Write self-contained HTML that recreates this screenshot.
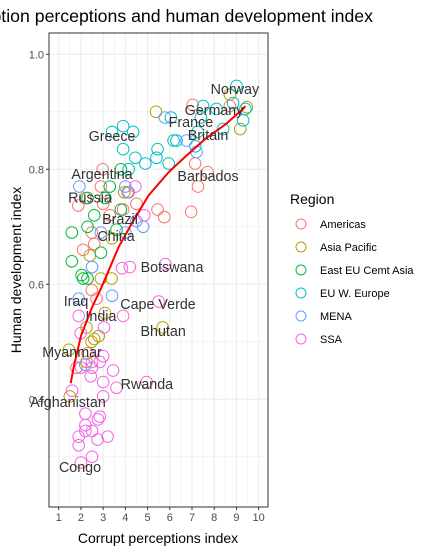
<!DOCTYPE html>
<html><head><meta charset="utf-8"><style>
body{margin:0;background:#fff;width:440px;height:552px;overflow:hidden}
svg{font-family:"Liberation Sans",sans-serif}
</style></head><body>
<svg id="c" width="440" height="552"></svg>
<script>
const regions=["Americas","Asia Pacific","East EU Cemt Asia","EU W. Europe","MENA","SSA"];
const colors=["#F8766D","#B79F00","#00BA38","#00BFC4","#619CFF","#F564E3"];
const americasPts=[[7.03,0.912],[8.7,0.91],[7.14,0.81],[7.7,0.795],[7.27,0.77],[6.96,0.726],[5.75,0.717],[5.45,0.73],[2.98,0.80],[2.9,0.77],[1.88,0.737],[2.2,0.75],[2.49,0.69],[3.3,0.72],[3.9,0.73],[4.5,0.74],[3.0,0.74],[2.6,0.67],[2.1,0.66],[4.1,0.76],[2.49,0.59],[2.7,0.575],[1.8,0.455],[2.3,0.48]];
const asiaPts=[[9.47,0.908],[9.17,0.87],[8.7,0.93],[5.38,0.90],[3.95,0.76],[3.4,0.68],[2.4,0.65],[3.38,0.61],[2.9,0.61],[3.08,0.55],[2.25,0.525],[2.8,0.51],[2.48,0.50],[1.46,0.486],[2.25,0.465],[1.5,0.405],[5.68,0.525],[2.6,0.505]];
const eastEuPts=[[1.59,0.69],[1.59,0.64],[2.3,0.75],[3.3,0.77],[3.8,0.73],[2.6,0.72],[2.3,0.70],[2.1,0.61],[2.9,0.655],[3.8,0.80],[3.1,0.75],[3.6,0.695],[2.03,0.616],[2.3,0.61]];
const euwPts=[[9.0,0.945],[7.5,0.91],[8.1,0.905],[8.85,0.915],[9.4,0.905],[9.3,0.885],[7.4,0.89],[8.4,0.87],[6.05,0.89],[7.25,0.865],[6.3,0.85],[7.15,0.84],[3.9,0.875],[4.35,0.865],[3.4,0.865],[3.9,0.835],[5.45,0.835],[5.95,0.81],[5.4,0.82],[4.45,0.82],[4.9,0.81],[4.15,0.80],[6.17,0.85]];
const menaPts=[[5.78,0.89],[6.75,0.85],[7.2,0.83],[1.93,0.77],[4.0,0.77],[4.15,0.76],[4.5,0.71],[4.8,0.70],[2.9,0.69],[4.0,0.69],[2.5,0.63],[1.9,0.575],[3.4,0.58],[2.2,0.46]];
const ssaPts=[[4.45,0.77],[4.85,0.72],[5.8,0.635],[4.2,0.63],[3.85,0.628],[5.5,0.57],[3.9,0.545],[1.9,0.545],[3.04,0.525],[1.99,0.515],[3.0,0.475],[2.5,0.465],[2.85,0.465],[3.45,0.45],[2.5,0.455],[2.0,0.455],[2.44,0.44],[3.0,0.43],[3.6,0.42],[4.96,0.43],[3.0,0.405],[1.6,0.415],[2.2,0.375],[2.77,0.365],[2.2,0.355],[2.2,0.345],[2.5,0.345],[1.9,0.335],[2.75,0.33],[3.2,0.335],[1.9,0.32],[2.5,0.30],[2.0,0.29],[2.85,0.37]];
const seriesPts=[americasPts,asiaPts,eastEuPts,euwPts,menaPts,ssaPts];
const trendX=[1.54,1.68,2.0,2.5,2.87,3.13,3.7,4.35,5.05,5.95,6.7,7.6,8.5,9.3,9.4];
const trendY=[0.428,0.457,0.51,0.56,0.59,0.613,0.665,0.71,0.755,0.795,0.822,0.853,0.878,0.905,0.91];
const labelNames=["Norway","Germany","France","Britain","Greece","Argentina","Barbados","Russia","Brazil","China","Botswana","Iraq","Cape Verde","India","Bhutan","Myanmar","Rwanda","Afghanistan","Congo"];
const labelX=[8.93,7.99,6.95,7.72,3.4,2.95,7.72,2.41,3.76,3.58,6.1,1.78,5.47,2.9,5.7,1.6,4.97,1.42,1.96];
const labelY=[0.940,0.903,0.882,0.860,0.858,0.792,0.788,0.751,0.714,0.684,0.630,0.571,0.566,0.545,0.519,0.482,0.427,0.395,0.282];
const xTicks=[1,2,3,4,5,6,7,8,9,10];
const yTicks=[0.4,0.6,0.8,1.0];
const yTickLabels=["0.4","0.6","0.8","1.0"];

const L=49,R=268,T=33,B=507;
const x=v=>58.7+(v-1)*22.22;
const y=v=>54.3+(1-v)*575;
const svg=document.getElementById('c');
const NS="http://www.w3.org/2000/svg";
function mk(tag,attrs,parent){const e=document.createElementNS(NS,tag);for(const k in attrs)e.setAttribute(k,attrs[k]);(parent||svg).appendChild(e);return e;}

mk('rect',{x:L,y:T,width:R-L,height:B-T,fill:'#fff'});
const grid=mk('g',{});


for(let v=0.5;v<=10.5;v+=0.5){const px=x(v);if(px>L&&px<R)mk('line',{x1:px,x2:px,y1:T,y2:B,stroke:'#ebebeb','stroke-width':v%1?0.5:1},grid);}
for(let v=0.2;v<=1.05;v+=0.1){const py=y(v);if(py>T&&py<B)mk('line',{x1:L,x2:R,y1:py,y2:py,stroke:'#ebebeb','stroke-width':Math.round(v*10)%2?0.5:1},grid);}

seriesPts.forEach((pts,si)=>{
  const g=mk('g',{});
  
  
  pts.forEach(p=>{
    const c=mk('circle',{cx:x(p[0]),cy:y(p[1]),r:5.8,fill:'none',stroke:colors[si],'stroke-width':1},g);
    
    
  });
});
const tl=mk('polyline',{points:trendX.map((v,i)=>x(v)+','+y(trendY[i])).join(' '),fill:'none',stroke:'#ff0000','stroke-width':2});


labelNames.forEach((n,i)=>{
  const t=mk('text',{x:x(labelX[i]),y:y(labelY[i])+5,'text-anchor':'middle','font-size':14.3,fill:'#333'});
  t.textContent=n;
  
  
});
mk('rect',{x:L,y:T,width:R-L,height:B-T,fill:'none',stroke:'#333','stroke-width':1});
xTicks.forEach(v=>{mk('line',{x1:x(v),x2:x(v),y1:B,y2:B+3,stroke:'#333'});
  const t=mk('text',{x:x(v),y:B+14,'text-anchor':'middle','font-size':11,fill:'#4d4d4d'});t.textContent=v;
  
  });
yTicks.forEach((v,i)=>{mk('line',{x1:L-3,x2:L,y1:y(v),y2:y(v),stroke:'#333'});
  const t=mk('text',{x:L-5,y:y(v)+4,'text-anchor':'end','font-size':11,fill:'#4d4d4d'});t.textContent=yTickLabels[i];
  
  });
let t=mk('text',{x:158,y:543,'text-anchor':'middle','font-size':14,fill:'#000'});t.textContent='Corrupt perceptions index';


t=mk('text',{x:0,y:0,'text-anchor':'middle','font-size':14,fill:'#000',transform:'translate(21,270) rotate(-90)'});t.textContent='Human development index';


t=mk('text',{x:373,y:22,'text-anchor':'end','font-size':17.7,fill:'#000'});t.textContent='Corruption perceptions and human development index';


t=mk('text',{x:290,y:204,'font-size':14,fill:'#000'});t.textContent='Region';


regions.forEach((r,i)=>{
  const g=mk('g',{});
  
  
  const cy=224+i*23;
  mk('circle',{cx:301,cy:cy,r:5,fill:'none',stroke:colors[i]},g);
  const tt=mk('text',{x:320,y:cy+4,'font-size':11,fill:'#000'},g);tt.textContent=r;
});
</script>
</body></html>
